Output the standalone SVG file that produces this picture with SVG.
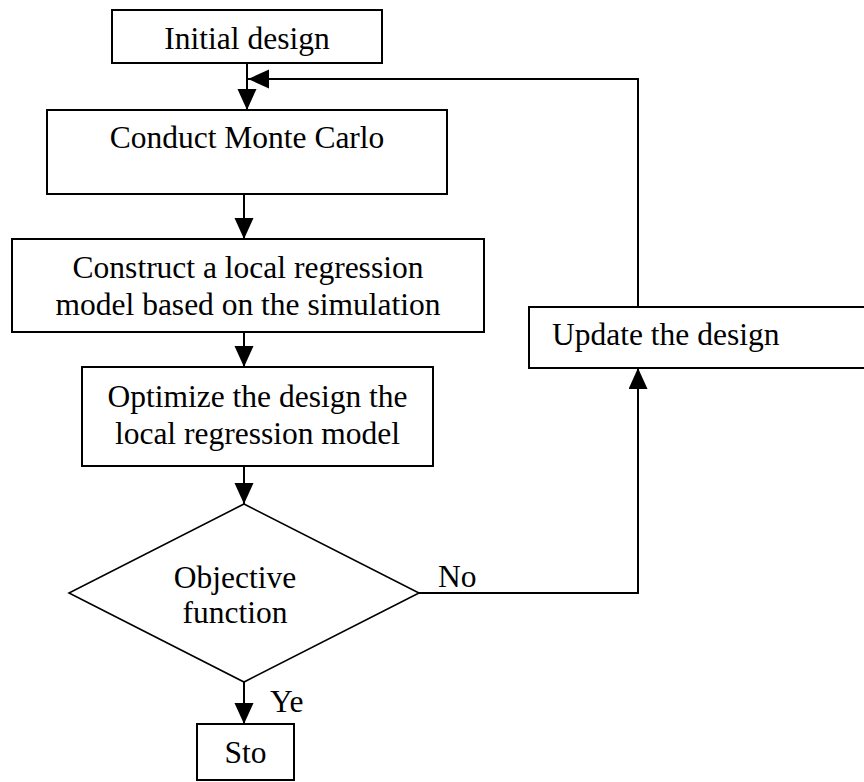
<svg xmlns="http://www.w3.org/2000/svg" width="864" height="782" viewBox="0 0 864 782">
<style>
.box{fill:#fff;stroke:#000;stroke-width:2}
.t{font-family:"Liberation Serif","Times New Roman",serif;font-size:31.5px;fill:#000}
.c{text-anchor:middle}
.ln{fill:none;stroke:#000;stroke-width:2}
</style>
<defs>
<marker id="ah" markerUnits="userSpaceOnUse" markerWidth="22" markerHeight="20" refX="21" refY="9.5" orient="auto">
<path d="M0,0 L21,9.5 L0,19 z" fill="#000"/>
</marker>
</defs>
<rect width="864" height="782" fill="#fff"/>
<g id="connectors">
<line class="ln" x1="247" y1="63" x2="247" y2="110" marker-end="url(#ah)"/>
<polyline class="ln" points="638,307 638,79 248,79" marker-end="url(#ah)"/>
<line class="ln" x1="244" y1="194" x2="244" y2="239" marker-end="url(#ah)"/>
<line class="ln" x1="244" y1="332" x2="244" y2="367" marker-end="url(#ah)"/>
<line class="ln" x1="244" y1="466" x2="244" y2="504" marker-end="url(#ah)"/>
<line class="ln" x1="244" y1="682" x2="244" y2="724" marker-end="url(#ah)"/>
<polyline class="ln" points="419,593 638,593 638,368" marker-end="url(#ah)"/>
<text class="t" x="438" y="587">No</text>
<text class="t" x="270" y="712">Ye</text>
</g>
<g id="initial">
<rect class="box" x="112" y="10" width="270" height="53"/>
<text class="t c" x="247" y="49">Initial design</text>
</g>
<g id="montecarlo">
<rect class="box" x="47" y="110" width="400" height="84"/>
<text class="t c" x="247" y="148">Conduct Monte Carlo</text>
</g>
<g id="construct">
<rect class="box" x="12" y="239" width="472" height="93"/>
<text class="t c" x="248" y="278">Construct a local regression</text>
<text class="t c" x="248" y="315">model based on the simulation</text>
</g>
<g id="optimize">
<rect class="box" x="82" y="367" width="351" height="99"/>
<text class="t c" x="257.5" y="407">Optimize the design the</text>
<text class="t c" x="257.5" y="444">local regression model</text>
</g>
<g id="objective">
<polygon class="box" points="244,504 419,593 244,682 69,593" style="stroke-width:1.6"/>
<text class="t c" x="235" y="588">Objective</text>
<text class="t c" x="235" y="623">function</text>
</g>
<g id="update">
<rect class="box" x="529" y="307" width="337" height="61"/>
<text class="t" x="552" y="345">Update the design</text>
</g>
<g id="stop">
<rect class="box" x="197" y="724" width="97" height="56"/>
<text class="t c" x="245.5" y="763">Sto</text>
</g>
</svg>
